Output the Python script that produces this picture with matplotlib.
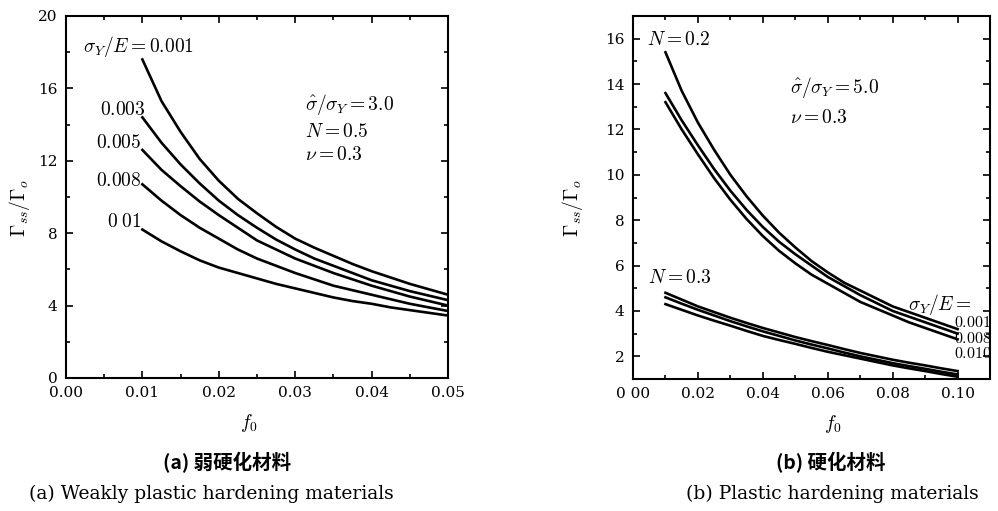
import numpy as np
import matplotlib
matplotlib.use("Agg")
import matplotlib.pyplot as plt
from matplotlib.ticker import MultipleLocator

plt.rcParams['font.family'] = ['DejaVu Serif']
plt.rcParams['mathtext.fontset'] = 'cm'

# (a) weakly hardening, sigma_hat/sigma_Y = 3.0, N = 0.5
f_a = [0.0100, 0.0125, 0.0150, 0.0175, 0.0200, 0.0225, 0.0250, 0.0275, 0.0300,
       0.0325, 0.0350, 0.0375, 0.0400, 0.0425, 0.0450, 0.0475, 0.0500]
a_0001 = [17.6, 15.3, 13.6, 12.1, 10.9, 9.9, 9.1, 8.35, 7.7,
          7.2, 6.75, 6.3, 5.9, 5.55, 5.2, 4.9, 4.6]
a_0003 = [14.4, 13.0, 11.8, 10.75, 9.8, 9.0, 8.3, 7.65, 7.1,
          6.6, 6.2, 5.8, 5.4, 5.1, 4.8, 4.55, 4.3]
a_0005 = [12.6, 11.5, 10.6, 9.75, 9.0, 8.3, 7.6, 7.1, 6.6,
          6.2, 5.8, 5.45, 5.1, 4.8, 4.5, 4.25, 4.0]
a_0008 = [10.7, 9.8, 9.0, 8.3, 7.7, 7.1, 6.6, 6.2, 5.8,
          5.45, 5.1, 4.85, 4.6, 4.35, 4.1, 3.9, 3.7]
a_0010 = [8.2, 7.55, 7.0, 6.5, 6.1, 5.8, 5.5, 5.2, 4.95,
          4.7, 4.45, 4.25, 4.1, 3.9, 3.75, 3.6, 3.45]
a_labels = ["$\\sigma_Y/E=0.001$", "$0.003$", "$0.005$", "$0.008$", "$0\\;01$"]

# (b) hardening, sigma_hat/sigma_Y = 5.0
f_b = [0.010, 0.015, 0.020, 0.025, 0.030, 0.035, 0.040, 0.045, 0.050, 0.055,
       0.060, 0.065, 0.070, 0.075, 0.080, 0.085, 0.090, 0.095, 0.100]
n02_0001 = [15.4, 13.7, 12.3, 11.1, 10.0, 9.05, 8.2, 7.45, 6.8, 6.2,
            5.7, 5.25, 4.9, 4.55, 4.2, 3.95, 3.7, 3.45, 3.2]
n02_0008 = [13.6, 12.4, 11.3, 10.25, 9.3, 8.45, 7.7, 7.05, 6.5, 6.0,
            5.5, 5.1, 4.7, 4.35, 4.0, 3.75, 3.5, 3.25, 3.0]
n02_0010 = [13.2, 12.0, 10.9, 9.85, 8.9, 8.05, 7.3, 6.65, 6.1, 5.6,
            5.2, 4.8, 4.4, 4.1, 3.8, 3.5, 3.25, 3.0, 2.75]
n03_0001 = [4.8, 4.5, 4.2, 3.95, 3.7, 3.47, 3.25, 3.05, 2.85, 2.67,
            2.5, 2.32, 2.15, 2.0, 1.85, 1.72, 1.6, 1.47, 1.35]
n03_0008 = [4.6, 4.32, 4.05, 3.8, 3.55, 3.32, 3.1, 2.9, 2.7, 2.52,
            2.35, 2.17, 2.0, 1.85, 1.7, 1.57, 1.45, 1.32, 1.2]
n03_0010 = [4.3, 4.05, 3.8, 3.57, 3.35, 3.12, 2.9, 2.72, 2.55, 2.37,
            2.2, 2.05, 1.9, 1.75, 1.6, 1.47, 1.35, 1.22, 1.1]
b_xticks = [0.00, 0.02, 0.04, 0.06, 0.08, 0.10]
b_xticklabels = ["0 00", "0.02", "0.04", "0.06", "0.08", "0.10"]
b_end_labels = ["$0.001$", "$0.008$", "$0.010$"]

lw = 1.9
fs = 11
mfs = 14  # math annotations
ylab = "$\\mathit{\\Gamma}_{ss}/\\mathit{\\Gamma}_o$"


def style_axes(ax):
    for s in ax.spines.values():
        s.set_linewidth(1.5)
    ax.tick_params(which='both', direction='in', top=True, right=True,
                   labelsize=fs, width=1.2)
    ax.tick_params(which='major', length=5, pad=6)
    ax.tick_params(which='minor', length=3)


fig = plt.figure(figsize=(9.98, 5.11), dpi=100)
ax1 = fig.add_axes([0.0661, 0.2603, 0.3828, 0.7084])
ax2 = fig.add_axes([0.6343, 0.2583, 0.3577, 0.7104])

# ---- panel (a)
for ys in [a_0001, a_0003, a_0005, a_0008, a_0010]:
    ax1.plot(f_a, ys, 'k-', lw=lw)
ax1.set_xlim(0, 0.05)
ax1.set_ylim(0, 20)
ax1.xaxis.set_major_locator(MultipleLocator(0.01))
ax1.xaxis.set_minor_locator(MultipleLocator(0.005))
ax1.yaxis.set_major_locator(MultipleLocator(4))
ax1.yaxis.set_minor_locator(MultipleLocator(2))
ax1.xaxis.set_major_formatter(plt.FormatStrFormatter('%.2f'))
style_axes(ax1)

lab_pos = [(0.0022, 18.3), (0.0045, 14.8), (0.0039, 13.0), (0.0039, 10.9), (0.0054, 8.6)]
for (x, y), t in zip(lab_pos, a_labels):
    ax1.text(x, y, t, fontsize=mfs, ha='left', va='center')
ax1.text(0.0313, 15.1, "$\\hat{\\sigma}/\\sigma_Y=3.0$", fontsize=mfs, va='center')
ax1.text(0.0313, 13.6, "$N=0.5$", fontsize=mfs, va='center')
ax1.text(0.0313, 12.3, "$\\nu=0.3$", fontsize=mfs, va='center')
ax1.set_ylabel(ylab, fontsize=14)
ax1.set_xlabel("$f_0$", fontsize=14)
ax1.yaxis.set_label_coords(-0.09, 0.47)
ax1.xaxis.set_label_coords(0.48, -0.095)

# ---- panel (b)
for ys in [n02_0001, n02_0008, n02_0010, n03_0001, n03_0008, n03_0010]:
    ax2.plot(f_b, ys, 'k-', lw=lw)
ax2.set_xlim(0, 0.11)
ax2.set_ylim(1, 17)
ax2.set_xticks(b_xticks)
ax2.set_xticklabels(b_xticklabels)
ax2.xaxis.set_minor_locator(MultipleLocator(0.01))
ax2.set_yticks([2, 4, 6, 8, 10, 12, 14, 16])
ax2.yaxis.set_minor_locator(MultipleLocator(1))
style_axes(ax2)

ax2.text(0.0043, 15.95, "$N=0.2$", fontsize=mfs, va='center')
ax2.text(0.0046, 5.45, "$N=0.3$", fontsize=mfs, va='center')
ax2.text(0.0485, 13.85, "$\\hat{\\sigma}/\\sigma_Y=5.0$", fontsize=mfs, va='center')
ax2.text(0.0485, 12.5, "$\\nu=0.3$", fontsize=mfs, va='center')
ax2.text(0.0846, 4.3, "$\\sigma_Y/E=$", fontsize=mfs, va='center')
for y, t in zip([3.5, 2.8, 2.12], b_end_labels):
    ax2.text(0.0988, y, t, fontsize=11.5, va='center', clip_on=False)
ax2.set_ylabel(ylab, fontsize=14)
ax2.set_xlabel("$f_0$", fontsize=14)
ax2.yaxis.set_label_coords(-0.134, 0.47)
ax2.xaxis.set_label_coords(0.56, -0.095)

# captions
cjk = ['Noto Sans CJK SC', 'DejaVu Sans']
fig.text(0.228, 1 - 463 / 511, "(a) 弱硬化材料", family=cjk, fontsize=14,
         fontweight='bold', ha='center', va='center')
fig.text(0.212, 1 - 494 / 511, "(a) Weakly plastic hardening materials",
         fontsize=13.5, ha='center', va='center')
fig.text(0.832, 1 - 463 / 511, "(b) 硬化材料", family=cjk, fontsize=14,
         fontweight='bold', ha='center', va='center')
fig.text(0.834, 1 - 494 / 511, "(b) Plastic hardening materials",
         fontsize=13.5, ha='center', va='center')

fig.savefig("out.png", dpi=100)
